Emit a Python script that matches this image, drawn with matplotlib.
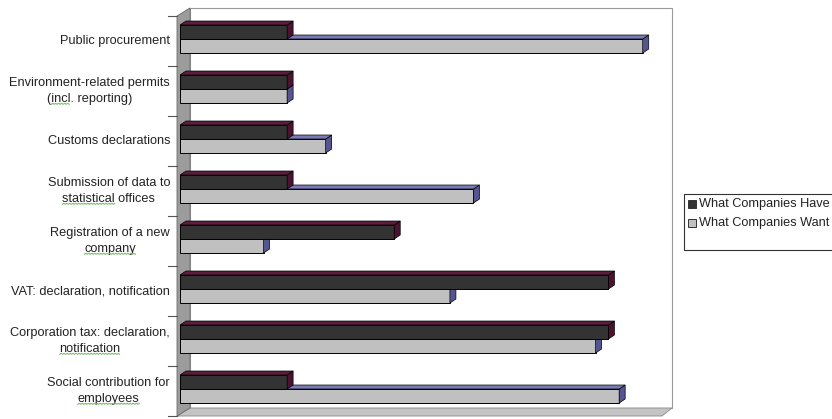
import matplotlib
matplotlib.use("Agg")
import matplotlib.pyplot as plt
from matplotlib.patches import Polygon, Rectangle
from matplotlib.lines import Line2D
from matplotlib.transforms import IdentityTransform

plt.rcParams['font.family'] = ['Liberation Sans', 'DejaVu Sans']

categories = [
    "Public procurement",
    "Environment-related permits\n(incl. reporting)",
    "Customs declarations",
    "Submission of data to\nstatistical offices",
    "Registration of a new\ncompany",
    "VAT: declaration, notification",
    "Corporation tax: declaration,\nnotification",
    "Social contribution for\nemployees",
]
have = [1, 1, 1, 1, 2, 4, 4, 1]
want = [4.32, 1.0, 1.36, 2.74, 0.78, 2.52, 3.88, 4.10]
series_names = ["What Companies Have", "What Companies Want"]
# words flagged by the spell checker (label index, prefix on 2nd line, word)
flagged = [(1, "(", "incl"), (3, "", "statistical"), (4, "", "company"),
           (6, "", "notification"), (7, "", "employees")]

XMAX = 4.5
W, H = 832, 419
fig = plt.figure(figsize=(W / 100, H / 100), dpi=100)
fig.patch.set_facecolor("white")

# front plane of the 3-d plot box, in pixels
left_px, right_px, top_px, bot_px = 180, 662, 16, 416
ax = fig.add_axes([left_px / W, 1 - bot_px / H, (right_px - left_px) / W, (bot_px - top_px) / H])
ax.set_xlim(0, XMAX)
ax.set_ylim(len(categories) - 0.5, -0.5)
ax.axis("off")

px_x = XMAX / (right_px - left_px)          # data units per pixel, x
px_y = len(categories) / (bot_px - top_px)  # data units per pixel, y


def px(dx, dy):
    # pixel shift (right, up) -> data shift; y axis is inverted
    return dx * px_x, -dy * px_y


def box(ax, x1, y_top, y_bot, front, side, top, dx, dy, z):
    # front face + right side + top face of a bar seen from upper right
    ox, oy = px(dx, dy)
    ax.add_patch(Polygon([(0, y_top), (x1, y_top), (x1, y_bot), (0, y_bot)], closed=True,
                         facecolor=front, edgecolor="black", lw=0.7, zorder=z))
    ax.add_patch(Polygon([(x1, y_bot), (x1 + ox, y_bot + oy), (x1 + ox, y_top + oy), (x1, y_top)],
                         closed=True, facecolor=side, edgecolor="black", lw=0.5, zorder=z))
    ax.add_patch(Polygon([(0, y_top), (ox, y_top + oy), (x1 + ox, y_top + oy), (x1, y_top)],
                         closed=True, facecolor=top, edgecolor="black", lw=0.5, zorder=z))


# walls and floor
wx, wy = px(10, 8)
x0 = -3 * px_x
n = len(categories)
ax.add_patch(Polygon([(wx, -0.5 + wy), (XMAX + wx, -0.5 + wy), (XMAX + wx, n - 0.5 + wy),
                      (wx, n - 0.5 + wy)], closed=True, facecolor="white",
                     edgecolor="#9a9a9a", lw=0.8, zorder=0, clip_on=False))
ax.add_patch(Polygon([(x0, n - 0.5), (XMAX, n - 0.5), (XMAX + wx, n - 0.5 + wy),
                      (wx, n - 0.5 + wy)], closed=True, facecolor="#c4c4c4",
                     edgecolor="#8a8a8a", lw=0.6, zorder=1, clip_on=False))
ax.add_patch(Polygon([(x0, n - 0.5), (x0, -0.5), (wx, -0.5 + wy), (wx, n - 0.5 + wy)],
                     closed=True, facecolor="#9c9c9c", edgecolor="#6a6a6a", lw=0.6,
                     zorder=1, clip_on=False))

# category ticks on the left wall
for b in range(n + 1):
    ax.plot([x0 - 9 * px_x, x0], [b - 0.5, b - 0.5], color="#555555", lw=0.8,
            clip_on=False, zorder=1)

bar_h = 0.28
for i, (h, w_) in enumerate(zip(have, want)):
    y_mid = i - 0.04
    box(ax, w_, y_mid, y_mid + bar_h, "#c0c0c0", "#55558f", "#7a7ab8", 6, 4, 3)
    box(ax, h, y_mid - bar_h, y_mid, "#333333", "#4a1430", "#5e1d3e", 6, 4, 4)

label_kw = dict(fontsize=9.2, color="#222222")
labels = []
for i, cat in enumerate(categories):
    t = ax.text(-10 * px_x, i, cat, ha="right", va="center", multialignment="center",
                linespacing=1.4, clip_on=False, **label_kw)
    labels.append(t)

# green squiggles under the flagged words
renderer = fig.canvas.get_renderer()


def text_width(s):
    tmp = fig.text(0, 0, s, **label_kw)
    w = tmp.get_window_extent(renderer).width
    tmp.remove()
    return w


for idx, prefix, word in flagged:
    bb = labels[idx].get_window_extent(renderer)
    line2 = categories[idx].split("\n")[1]
    lw2 = text_width(line2)
    xs = (bb.x0 + bb.x1) / 2 - lw2 / 2 + (text_width(prefix) if prefix else 0)
    xe = xs + text_width(word)
    yb = bb.y0 + 0.5
    xx, yy, k = [], [], 0
    x = xs
    while x <= xe:
        xx.append(x)
        yy.append(yb + (1.0 if k % 2 else 0.0))
        x += 1.5
        k += 1
    fig.add_artist(Line2D(xx, yy, transform=IdentityTransform(), color="#7cbf6a", lw=0.8))

# legend box
lx, ly_top, ly_bot = 684, 194, 250
fig.patches.append(Rectangle((lx / W, 1 - ly_bot / H), (W + 10 - lx) / W, (ly_bot - ly_top) / H,
                             transform=fig.transFigure, facecolor="white",
                             edgecolor="#333333", lw=0.8))
for k, (name, col) in enumerate(zip(series_names, ["#333333", "#c0c0c0"])):
    yc = 204 + k * 19
    fig.patches.append(Rectangle((688 / W, 1 - (yc + 4) / H), 8 / W, 8 / H,
                                 transform=fig.transFigure, facecolor=col,
                                 edgecolor="#333333", lw=0.7))
    fig.text(699 / W, 1 - yc / H, name, ha="left", va="center", **label_kw)

fig.savefig("out.png", dpi=100)
